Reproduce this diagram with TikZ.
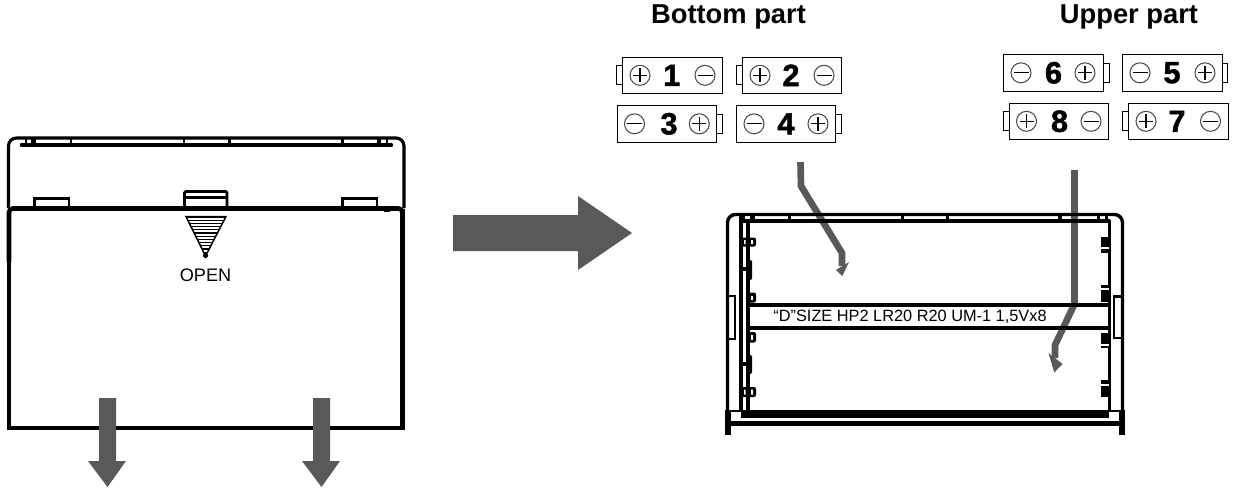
\documentclass[tikz,border=0pt]{standalone}
\usepackage{fontspec}
\setmainfont{Liberation Sans}
\newfontfamily\numfont[BoldFeatures={FakeBold=1.6}]{Liberation Sans}
\definecolor{arrowgray}{HTML}{5A5858}
\tikzset{
  x=0.75pt,y=-0.75pt,
  ln/.style={draw=black,line width=#1*0.75pt},
  ln/.default=3,
  grayfill/.style={fill=arrowgray,draw=none},
  graypath/.style={draw=arrowgray,line width=5pt,line join=miter},
  battbody/.style={draw=black,fill=white,line width=1pt},
  pole/.style={circle,draw=black!70,line width=0.8pt,minimum size=15pt,inner sep=0pt},
  num/.style={inner sep=0pt,font=\numfont\bfseries\fontsize{23}{23}\selectfont},
  heading/.style={inner sep=0pt,font=\bfseries\fontsize{20.5}{22}\selectfont},
}
% + and - poles
\newcommand\plusat[2]{\node[pole] at ({#1},{#2}) {};
  \draw[line width=0.85pt] ({#1-7},{#2}) -- ({#1+7},{#2}) ({#1},{#2-7}) -- ({#1},{#2+7});}
\newcommand\minusat[2]{\node[pole] at ({#1},{#2}) {};
  \draw[line width=0.85pt] ({#1-7.5},{#2}) -- ({#1+7.5},{#2});}
\newcommand\battL[8]{% nub on the left, plus left
  \pgfmathsetmacro\ymid{(#3+#4)/2}
  \draw[battbody] ({#1-5.5},{\ymid-9.5}) rectangle (#1,{\ymid+9.5});
  \draw[battbody] (#1,#3) rectangle (#2,#4);
  \plusat{#7}{\ymid}\minusat{#8}{\ymid}
  \node[num] (n#5) at (#6,\ymid) {#5};}
\newcommand\battR[8]{% nub on the right, plus right
  \pgfmathsetmacro\ymid{(#3+#4)/2}
  \draw[battbody] (#2,{\ymid-9.5}) rectangle ({#2+5.5},{\ymid+9.5});
  \draw[battbody] (#1,#3) rectangle (#2,#4);
  \plusat{#7}{\ymid}\minusat{#8}{\ymid}
  \node[num] (n#5) at (#6,\ymid) {#5};}
\begin{document}
\begin{tikzpicture}
\useasboundingbox (0,0) rectangle (1235,490);
\fill[white] (0,0) rectangle (1235,490);

% ---------- left: closed cover ----------
\draw[ln=3.2,rounded corners=6] (8.5,208) -- (8.5,138) -- (404,138) -- (404,208);
\draw[ln=4.6,line cap=round] (22,145) -- (391,145);
\foreach \a/\b in {25/26.5,31/36,70/72,182.5/185,228/230.5,341/344,376.5/381,386/388}
  \fill[black] (\a,138) rectangle (\b,145);
% tabs
\draw[ln=2.8] (34.5,208) -- (34.5,198.5) -- (69,198.5) -- (69,208);
\draw[ln=2.8] (342.5,208) -- (342.5,198.5) -- (377,198.5) -- (377,208);
\draw[ln=2.8,rounded corners=1] (184.5,208) -- (184.5,191.5) -- (227,191.5) -- (227,208);
\draw[ln=3.4] (184.5,197.5) -- (227,197.5);
% lid
\draw[ln=4.6,rounded corners=3] (9,262) -- (9,208.5) -- (402.5,208.5) -- (402.5,262);
\draw[ln=4.4] (9,262) -- (9,428) -- (402.5,428) -- (402.5,262);
\draw[ln=1.5] (404.5,209) -- (404.5,358);
\draw[ln=1.5] (384,211) -- (390,211);
% OPEN triangle
\draw[ln=1.5] (186,216.5) -- (226,216.5) -- (205.5,256) -- cycle;
\foreach \i in {0,...,11}{
  \pgfmathsetmacro\yy{217+\i*3.2}
  \pgfmathsetmacro\hw{20*(256-\yy)/39.5}
  \draw[ln=1.2] ({206-\hw},\yy) -- ({206+\hw},\yy);
}
\fill[black] (205.5,255.5) circle[radius=2.6];
\node[inner sep=0pt,font=\fontsize{13.6}{15}\selectfont] (open) at (205.5,275) {OPEN};

% gray block arrows
\fill[grayfill] (99,398) -- (116,398) -- (116,461) -- (126,461) -- (107.5,487) -- (88,461) -- (99,461) -- cycle;
\fill[grayfill] (313,398) -- (330,398) -- (330,461) -- (340,461) -- (321.5,487) -- (302,461) -- (313,461) -- cycle;
\fill[grayfill] (453,215) -- (578,215) -- (578,196) -- (632,233) -- (578,270) -- (578,251) -- (453,251) -- cycle;

% ---------- headings ----------
\node[heading,anchor=base] (bottom) at (728.5,23.5) {Bottom part};
\node[heading,anchor=base] (upper) at (1129,23.5) {Upper part};

% ---------- batteries ----------
\battL{622.3}{722.3}{57.3}{93.3}{1}{671.7}{640}{705}
\battL{742.3}{841.7}{57.3}{93.3}{2}{791}{760}{824}
\battR{617.3}{716.7}{105.3}{142.3}{3}{669}{699.3}{634.5}
\battR{736.3}{835.7}{105.3}{142.3}{4}{786}{818}{754}
\battR{1003.3}{1103.7}{54.3}{91.3}{6}{1053.5}{1085}{1021}
\battR{1122.3}{1222.3}{54.3}{91.3}{5}{1172}{1205}{1140}
\battL{1009.3}{1108.3}{103.3}{139.3}{8}{1059.5}{1026.5}{1091}
\battL{1128.3}{1228.3}{103.3}{139.3}{7}{1177}{1146}{1210.5}

% ---------- right: open compartment ----------
% gray insertion paths, under the black lines
\draw[graypath] (800.5,162) -- (801,186) -- (842,253) -- (842,266);
\fill[arrowgray] (836,270) -- (849,262) -- (842.3,276) -- cycle;
\draw[graypath] (1074.5,170) -- (1074.5,304) -- (1055,345) -- (1055,358);
\fill[arrowgray] (1048.5,353) -- (1062.5,364) -- (1054.3,372.5) -- cycle;

% band text
\node[inner sep=0pt,font=\fontsize{12.25}{14}\selectfont] (dsize) at (910,316.5) {“D”SIZE HP2 LR20 R20 UM-1 1,5Vx8};

% outer shell
\draw[ln=3.4,rounded corners=6] (727.5,423) -- (727.5,214.5) -- (1122.5,214.5) -- (1122.5,423);
\draw[ln=5.4] (728,410) -- (728,435);
\draw[ln=5.4] (1122,410) -- (1122,435);
% inner frame
\draw[ln=3.2] (741,214) -- (741,411);
\draw[ln=3.2] (748,221) -- (748,411);
\draw[ln=3.6] (741,221) -- (1110,221);
\draw[ln=3.2] (1109.5,220) -- (1109.5,411);
% rail ticks
\foreach \a/\b in {742/745,750/755,788/791,901/904,946/949,1058/1062,1097/1100,1105/1108}
  \fill[black] (\a,214) rectangle (\b,221);
% band
\draw[ln=3.2] (748,305) -- (1109,305);
\draw[ln=3.2] (748,328) -- (1109,328);
% side tabs
\draw[ln=2.8] (728,296) -- (735,296) -- (735,339) -- (728,339);
\draw[ln=2.8] (1122,296.5) -- (1114,296.5) -- (1114,338) -- (1122,338);
% bottom
\draw[ln=6.8] (741,414.5) -- (1109,414.5);
\draw[ln=4.6] (729,423.5) -- (1122,423.5);
\draw[ln=2] (728,410.5) -- (1122,410.5);
% left clips
\foreach \yt/\yb in {237.5/246.5,387/397}{
  \fill[black,rounded corners=1.5] (740,\yt) rectangle (756,\yb);
  \fill[white] (744,{\yt+2.5}) rectangle (745.5,{\yb-2.5}) (751,{\yt+2.5}) rectangle (753,{\yb-2.5});
}
\foreach \yt/\yb in {292.5/302.5,332/342.5}{
  \fill[black,rounded corners=1.5] (748,\yt) rectangle (756,\yb);
  \fill[white] (751,{\yt+3}) rectangle (753,{\yb-3});
}
\foreach \yt/\yb/\ym in {260/280/269,355/374/364}{
  \fill[black,rounded corners=1] (748.5,\yt) rectangle (752,\yb);
  \fill[black] (740,{\ym-1.8}) rectangle (749,{\ym+1.8});
}
% right clips
\foreach \yt/\yb/\ys in {237/253/247,285/301.5/288,333/348/344,380/397/384}{
  \fill[black] (1101,\yt) rectangle (1108.5,\yb);
  \fill[white] (1101,\ys) rectangle (1108.5,{\ys+1.5});
}
\end{tikzpicture}
\end{document}
